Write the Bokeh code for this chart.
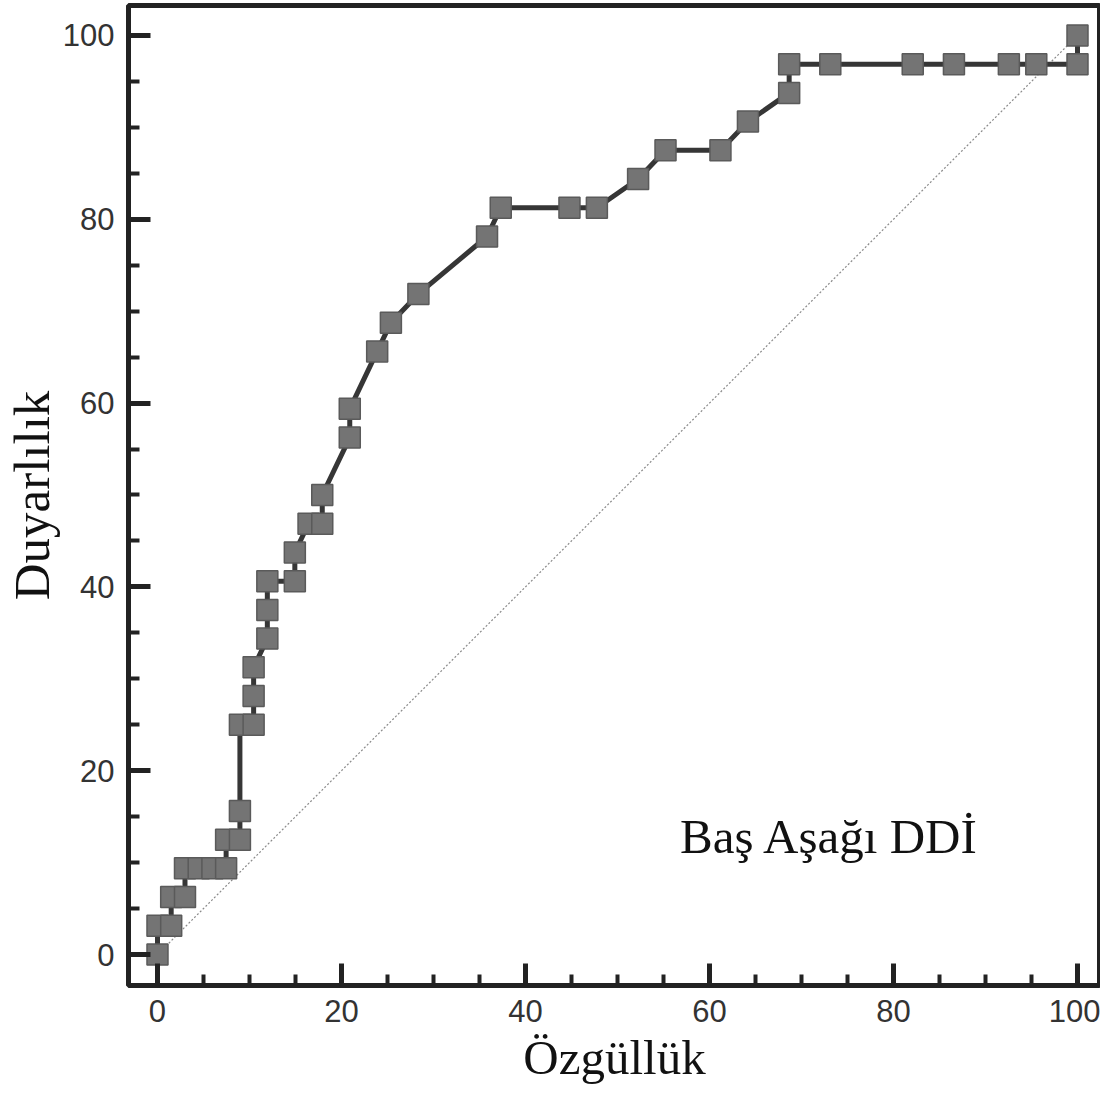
from bokeh.plotting import figure
from bokeh.models import Range1d, SingleIntervalTicker, Label
from bokeh.embed import file_html
from bokeh.resources import INLINE

# ROC data: x = 100 - specificity (%), y = sensitivity (%)
roc_x = [0, 0, 1.49, 1.49, 2.99, 2.99, 4.48, 5.97, 7.46, 7.46, 8.96, 8.96, 8.96,
         10.45, 10.45, 10.45, 11.94, 11.94, 11.94, 14.93, 14.93, 16.42, 17.91, 17.91,
         20.90, 20.90, 23.88, 25.37, 28.36, 35.82, 37.31, 44.78, 47.76, 52.24, 55.22,
         61.19, 64.18, 68.66, 68.66, 73.13, 82.09, 86.57, 92.54, 95.52, 100, 100]
roc_y = [0, 3.125, 3.125, 6.25, 6.25, 9.375, 9.375, 9.375, 9.375, 12.5, 12.5, 15.625, 25,
         25, 28.125, 31.25, 34.375, 37.5, 40.625, 40.625, 43.75, 46.875, 46.875, 50,
         56.25, 59.375, 65.625, 68.75, 71.875, 78.125, 81.25, 81.25, 81.25, 84.375, 87.5,
         87.5, 90.625, 93.75, 96.875, 96.875, 96.875, 96.875, 96.875, 96.875, 96.875, 100]
diag_x = [0, 100]
diag_y = [0, 100]

x_title = "Özgüllük"
y_title = "Duyarlılık"
note = "Baş Aşağı DDİ"

p = figure(width=1100, height=1099, output_backend="svg", toolbar_location=None,
           x_range=Range1d(-3.15, 102.5), y_range=Range1d(-3.37, 103.26),
           min_border_left=120, min_border_right=0, min_border_top=5, min_border_bottom=114)
p.background_fill_color = "white"
p.border_fill_color = "white"
p.outline_line_color = "#222222"
p.outline_line_width = 5
p.xgrid.visible = False
p.ygrid.visible = False

for ax in (p.xaxis[0], p.yaxis[0]):
    ax.ticker = SingleIntervalTicker(interval=20, num_minor_ticks=4)
    ax.axis_line_color = None
    ax.major_tick_in = 22
    ax.major_tick_out = 0
    ax.minor_tick_in = 11
    ax.minor_tick_out = 0
    ax.major_tick_line_width = 5
    ax.minor_tick_line_width = 4
    ax.major_tick_line_color = "#222222"
    ax.minor_tick_line_color = "#222222"
    ax.major_label_text_font = "Liberation Sans"
    ax.major_label_text_font_size = "31px"
    ax.major_label_text_color = "#333333"
    ax.axis_label_text_font = "Liberation Serif"
    ax.axis_label_text_font_style = "normal"
    ax.axis_label_text_color = "#111111"

p.xaxis[0].axis_label = x_title
p.yaxis[0].axis_label = y_title
p.xaxis[0].axis_label_text_font_size = "49px"
p.yaxis[0].axis_label_text_font_size = "51px"
p.xaxis[0].major_label_standoff = 14
p.yaxis[0].major_label_standoff = 14
p.xaxis[0].axis_label_standoff = 5
p.yaxis[0].axis_label_standoff = 0

p.line(diag_x, diag_y, line_color="#8a8a8a", line_width=1.2, line_dash="2 2")
p.line(roc_x, roc_y, line_color="#363636", line_width=5)
p.scatter(roc_x, roc_y, marker="square", size=21, fill_color="#747474",
          line_color="#5a5a5a", line_width=1.5)

p.add_layout(Label(x=56.8, y=12.85, text=note, text_font="Liberation Serif",
                   text_font_size="49px", text_color="#111111",
                   text_baseline="alphabetic"))

open("out.html", "w").write(file_html(p, INLINE))
